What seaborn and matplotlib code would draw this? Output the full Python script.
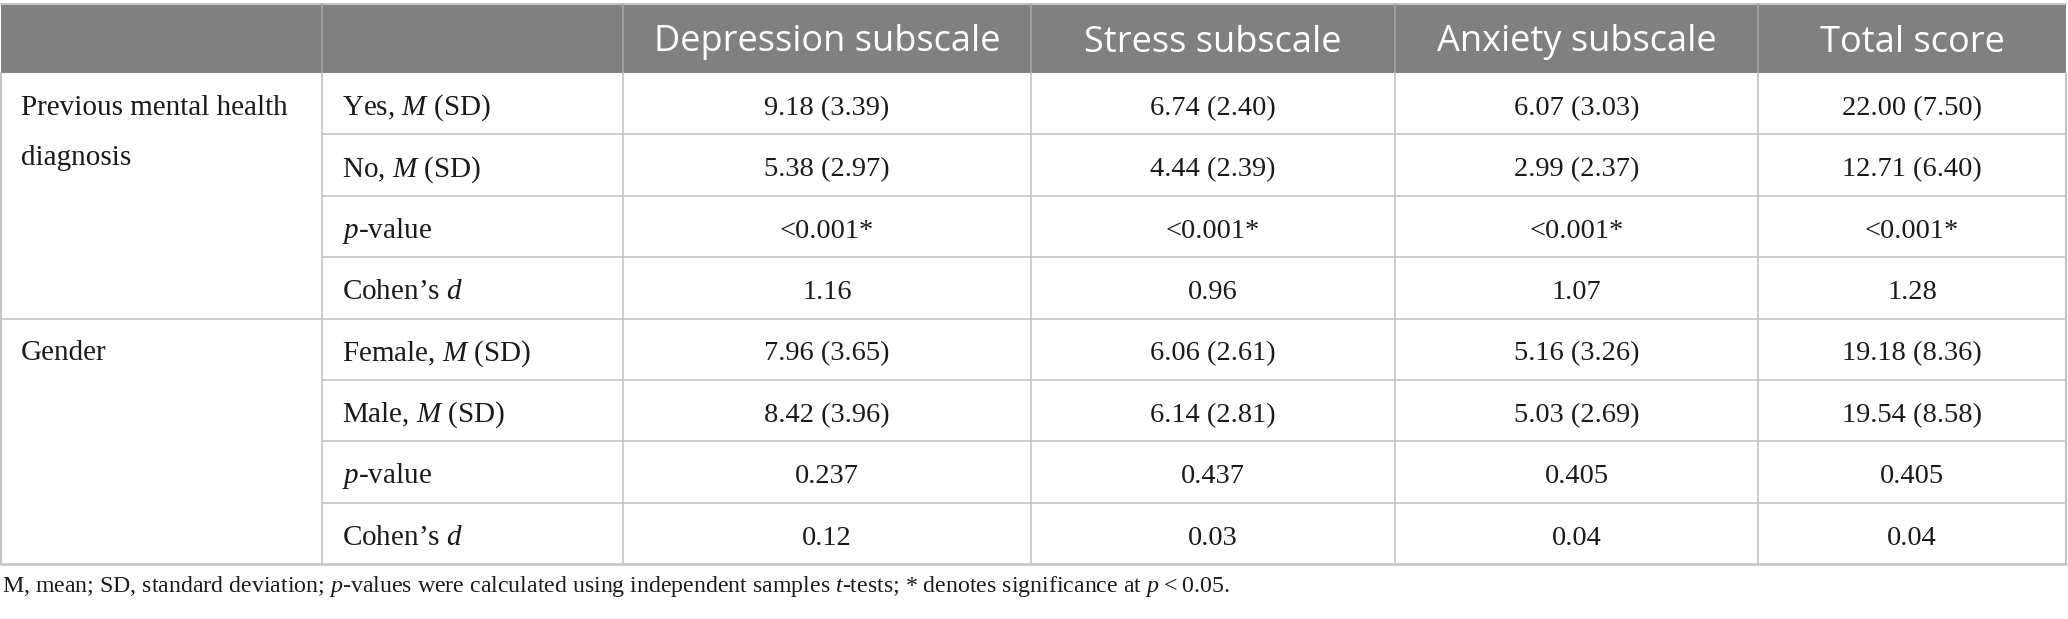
import numpy as np
import pandas as pd
import matplotlib
matplotlib.use("Agg")
import matplotlib.pyplot as plt
import seaborn as sns

# ──────────────────────────────────────────────
# Table content
# ──────────────────────────────────────────────
columns = ["Depression subscale", "Stress subscale", "Anxiety subscale", "Total score"]
groups = ["Previous mental health\ndiagnosis", "Gender"]
row_labels = [
    "Yes, $M$ (SD)", "No, $M$ (SD)", "$p$-value", "Cohen\u2019s $d$",
    "Female, $M$ (SD)", "Male, $M$ (SD)", "$p$-value", "Cohen\u2019s $d$",
]
depression = ["9.18 (3.39)", "5.38 (2.97)", "<0.001*", "1.16",
              "7.96 (3.65)", "8.42 (3.96)", "0.237", "0.12"]
stress = ["6.74 (2.40)", "4.44 (2.39)", "<0.001*", "0.96",
          "6.06 (2.61)", "6.14 (2.81)", "0.437", "0.03"]
anxiety = ["6.07 (3.03)", "2.99 (2.37)", "<0.001*", "1.07",
           "5.16 (3.26)", "5.03 (2.69)", "0.405", "0.04"]
total = ["22.00 (7.50)", "12.71 (6.40)", "<0.001*", "1.28",
         "19.18 (8.36)", "19.54 (8.58)", "0.405", "0.04"]
footnote = ("M, mean; SD, standard deviation; $p$-values were calculated using "
            "independent samples $t$-tests; * denotes significance at $p$\u2009<\u20090.05.")

table = pd.DataFrame({c: v for c, v in zip(columns, [depression, stress, anxiety, total])})

# ──────────────────────────────────────────────
# Layout (pixel units)
# ──────────────────────────────────────────────
W, H = 2068, 619
COL_EDGES = [1, 322, 623, 1031, 1395, 1758, 2066]
HEAD_TOP, HEAD_BOT = 4, 73
ROW_H = (564 - HEAD_BOT) / len(row_labels)
ROWS_PER_GROUP = 4

HEAD_COLOR = "#808080"
GRID_COLOR = "#c3c3c3"
TEXT_COLOR = "#1a1a1a"
SERIF = "Liberation Serif"
SANS = "Open Sans"
LABEL_SIZE = 21
VALUE_SIZE = 20.5

sns.set_theme(style="white")
plt.rcParams["font.family"] = [SERIF, "DejaVu Serif"]
plt.rcParams["mathtext.fontset"] = "custom"
plt.rcParams["mathtext.rm"] = SERIF
plt.rcParams["mathtext.it"] = SERIF + ":italic"

fig = plt.figure(figsize=(W / 100, H / 100), dpi=100)
ax = fig.add_axes([0, 0, 1, 1])
ax.set_xlim(0, W)
ax.set_ylim(H, 0)
ax.axis("off")

# header band
ax.fill_between([COL_EDGES[0], COL_EDGES[-1]], HEAD_TOP, HEAD_BOT, color=HEAD_COLOR, lw=0)
ax.plot([COL_EDGES[0], COL_EDGES[-1]], [HEAD_TOP, HEAD_TOP], color=GRID_COLOR, lw=1.5)
for x in COL_EDGES[1:-1]:
    ax.plot([x, x], [HEAD_TOP, HEAD_BOT], color="#a6a6a6", lw=1.2)
for j, name in enumerate(table.columns):
    cx = (COL_EDGES[j + 2] + COL_EDGES[j + 3]) / 2
    ax.text(cx, 51.5, name, ha="center", va="baseline", color="white",
            fontsize=26, family=SANS)

# body grid
row_edges = [HEAD_BOT + i * ROW_H for i in range(len(row_labels) + 1)]
for i, y in enumerate(row_edges[1:-1], start=1):
    x0 = COL_EDGES[0] if i % ROWS_PER_GROUP == 0 else COL_EDGES[1]
    ax.plot([x0, COL_EDGES[-1]], [y, y], color=GRID_COLOR, lw=1.2)
ax.plot([COL_EDGES[0], COL_EDGES[-1]], [row_edges[-1]] * 2, color=GRID_COLOR, lw=1.8)
for x in COL_EDGES:
    ax.plot([x, x], [HEAD_BOT, row_edges[-1]], color=GRID_COLOR,
            lw=1.5 if x in (COL_EDGES[0], COL_EDGES[-1]) else 1.2)

# group labels (top of merged cell)
for g, label in enumerate(groups):
    y0 = row_edges[g * ROWS_PER_GROUP]
    for k, line in enumerate(label.split("\n")):
        ax.text(COL_EDGES[0] + 20, y0 + 42 + k * 50, line, ha="left", va="baseline",
                color=TEXT_COLOR, fontsize=LABEL_SIZE)

# row labels and values
for i, lab in enumerate(row_labels):
    base = row_edges[i] + 42
    ax.text(COL_EDGES[1] + 20, base, lab, ha="left", va="baseline",
            color=TEXT_COLOR, fontsize=LABEL_SIZE)
    for j, col in enumerate(table.columns):
        cx = (COL_EDGES[j + 2] + COL_EDGES[j + 3]) / 2
        ax.text(cx, base, table[col].iloc[i], ha="center", va="baseline",
                color=TEXT_COLOR, fontsize=VALUE_SIZE)

ax.text(2, 592, footnote, ha="left", va="baseline", color=TEXT_COLOR, fontsize=17.2)

fig.savefig("out.png", dpi=100)
plt.close("all")
